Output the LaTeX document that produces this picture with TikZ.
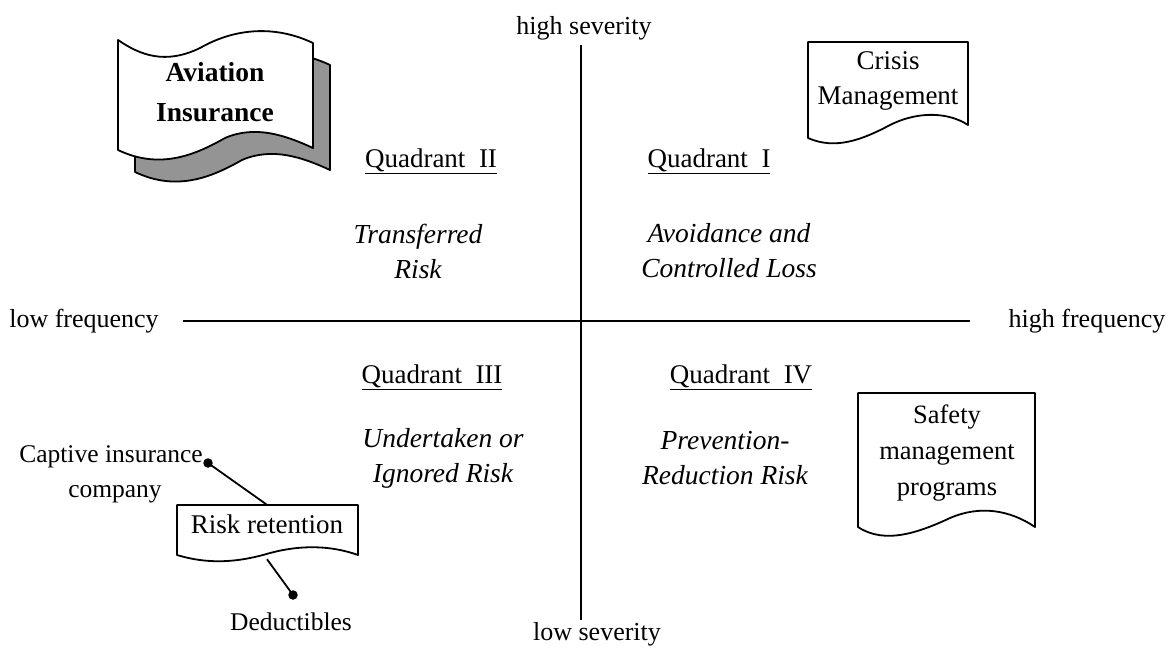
\documentclass[tikz,border=0pt]{standalone}
\usepackage{fontspec}
\setmainfont{Liberation Serif}
\begin{document}
\begin{tikzpicture}[x=1pt,y=-1pt,
  lbl/.style={inner sep=0pt,font=\fontsize{26}{34}\selectfont,align=center},
  quad/.style={lbl,font=\fontsize{27}{34}\selectfont},
  strat/.style={lbl,font=\fontsize{27.5}{35}\selectfont\itshape},
  boxtxt/.style={lbl,font=\fontsize{27}{35}\selectfont},
  doc/.style={draw=black,line width=1.8pt,fill=white,line join=round},
  axis/.style={draw=black,line width=2.2pt},
  lead/.style={draw=black,line width=1.8pt},
  dot/.style={circle,fill=black,inner sep=0pt,minimum size=9.5pt}]
\useasboundingbox (0,0) rectangle (1172,651);
\fill[white] (0,0) rectangle (1172,651);

% axes and their end labels
\coordinate (top) at (581,45);
\coordinate (bot) at (581,620);
\coordinate (lft) at (183,321);
\coordinate (rgt) at (970,321);
\draw[axis] (top) -- (bot);
\draw[axis] (lft) -- (rgt);
\node[lbl] (hs) at (584,28) {high severity};
\node[lbl] (ls) at (597,634) {low severity};
\node[lbl] (lf) at (84,321) {low frequency};
\node[lbl] (hf) at (1087,321) {high frequency};

% quadrant titles
\node[quad] (q2) at (431,161) {\underline{Quadrant\ \ II}};
\node[quad] (q1) at (709,161) {\underline{Quadrant\ \ I}};
\node[quad] (q3) at (432,377) {\underline{Quadrant\ \ III}};
\node[quad] (q4) at (741,377) {\underline{Quadrant\ \ IV}};

% strategies
\node[strat] (s2) at (418,251) {Transferred\\Risk};
\node[strat] (s1) at (729,251) {Avoidance and\\Controlled Loss};
\node[strat] (s3) at (443,458) {Undertaken or\\Ignored Risk};
\node[strat] (s4) at (725,458) {Prevention-\\Reduction Risk};

% aviation insurance banner with its shadow
\begin{scope}[shift={(17,22)}]
  \draw[line width=1.8pt,fill=black!42,line join=round]
    (118,40) .. controls (140,55) and (165,65) .. (200,48)
    .. controls (235,28) and (275,25) .. (313,43) -- (313,148)
    .. controls (285,135) and (255,125) .. (225,138)
    .. controls (195,155) and (160,170) .. (118,150) -- cycle;
\end{scope}
\draw[doc]
    (118,40) .. controls (140,55) and (165,65) .. (200,48)
    .. controls (235,28) and (275,25) .. (313,43) -- (313,148)
    .. controls (285,135) and (255,125) .. (225,138)
    .. controls (195,155) and (160,170) .. (118,150) -- cycle;
\node[boxtxt,font=\fontsize{27.5}{40}\selectfont\bfseries] (av) at (215,92) {Aviation\\Insurance};

% crisis management document
\draw[doc] (808,42) -- (968,42) -- (968,125)
  .. controls (950,113) and (920,110) .. (890,125)
  .. controls (862,140) and (835,150) .. (808,138) -- cycle;
\node[boxtxt] (cm) at (888,81) {Crisis\\Management};

% safety management document
\draw[doc] (858,393) -- (1035,393) -- (1035,527)
  .. controls (1010,510) and (980,505) .. (950,518)
  .. controls (920,532) and (885,545) .. (858,527) -- cycle;
\node[boxtxt,font=\fontsize{26.5}{36}\selectfont] (sm) at (947,453) {Safety\\management\\programs};

% risk retention document with its two leads
\draw[doc] (177,505) -- (358,505) -- (358,555)
  .. controls (330,545) and (300,545) .. (270,553)
  .. controls (240,562) and (210,565) .. (177,555) -- cycle;
\node[inner sep=0pt,minimum width=181pt,minimum height=50pt] (rr) at (267,530) {};
\node[boxtxt] (rrt) at (267,524) {Risk retention};

\node[dot] (d1) at (208,463) {};
\node[dot] (d2) at (293,595) {};
\draw[lead] (d1.center) -- (rr.north);
\draw[lead] ([yshift=-4pt]rr.south) -- (d2.center);

\node[lbl,font=\fontsize{25.5}{35}\selectfont] (cap) at (111,474) {Captive insurance\\\hspace*{8pt}company};
\node[lbl,font=\fontsize{25.5}{35}\selectfont] (ded) at (291,622) {Deductibles};
\end{tikzpicture}
\end{document}
